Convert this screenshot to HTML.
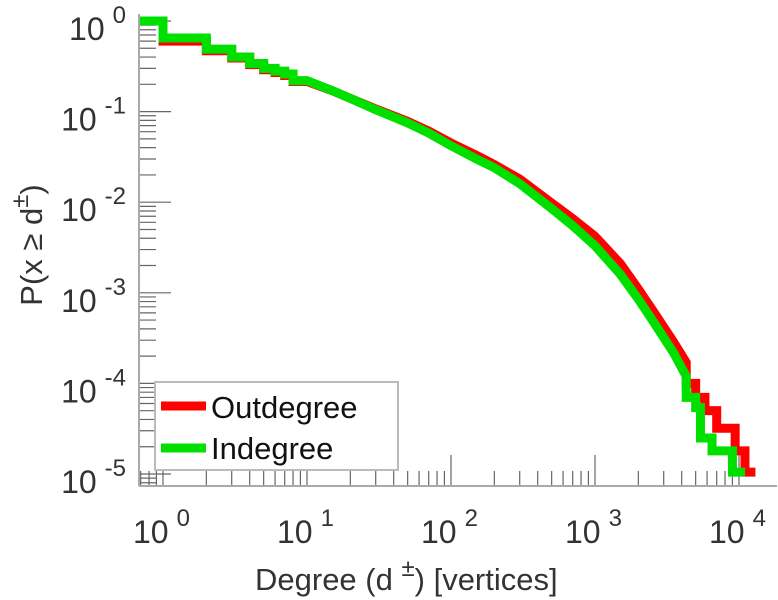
<!DOCTYPE html>
<html><head><meta charset="utf-8"><style>
body{margin:0;background:#fff;}
svg{display:block;font-family:"Liberation Sans",Arial,sans-serif;}
</style></head><body>
<svg id="chart" width="778" height="600" viewBox="0 0 778 600">
<g id="ticks"></g>
<g id="series"></g>
<g id="labels"></g>
<line x1="139" y1="486" x2="777" y2="486" stroke="#aaa" stroke-width="2"/>
<line x1="139" y1="14" x2="139" y2="486" stroke="#aaa" stroke-width="2"/>
<g>
<rect x="155" y="382" width="243" height="88" fill="#fff" stroke="#bbb" stroke-width="2"/>
<line x1="161" y1="406" x2="206" y2="406" stroke="#ff0000" stroke-width="9"/>
<text x="211" y="418" font-size="31" fill="#111">Outdegree</text>
<line x1="161" y1="448" x2="206" y2="448" stroke="#00e000" stroke-width="9"/>
<text x="211" y="459" font-size="31" fill="#111">Indegree</text>
</g>
<text x="255" y="590" font-size="31" fill="#333">Degree (d <tspan dy="-14" font-size="24">±</tspan><tspan dy="14">) [vertices]</tspan></text>
<text transform="translate(42,245) rotate(-90)" text-anchor="middle" font-size="31" fill="#333">P(x ≥ d<tspan dy="-14" font-size="24">±</tspan><tspan dy="14">)</tspan></text>
</svg>
<script>
const xTickExps = [0, 1, 2, 3, 4];
const yTickExps = [0, -1, -2, -3, -4, -5];
const outDeg = [1,2,3,4,5,6,7,8,10,15,20,30,50,70,100,150,200,300,500,700,1000,1500,2000,2500,3000,3500,4300,5000,5800,7000,9400,11000,13000];
const outP = [1,0.6,0.47,0.39,0.33,0.29,0.27,0.25,0.215,0.17,0.14,0.107,0.078,0.061,0.045,0.033,0.026,0.018,0.0098,0.0066,0.0042,0.0021,0.0011,0.00065,0.00042,0.00029,0.00017,0.0001,0.00007,0.00005,0.000032,0.000018,0.0000105];
const inDeg = [1,2,3,4,5,6,7,8,10,15,20,30,50,70,100,150,200,300,500,700,1000,1500,2000,2500,3000,3500,4300,5000,5400,6500,9000,11000];
const inP = [1,0.65,0.49,0.40,0.34,0.30,0.28,0.26,0.22,0.17,0.14,0.105,0.075,0.058,0.042,0.03,0.024,0.016,0.0085,0.0055,0.0033,0.0016,0.00085,0.0005,0.00032,0.00022,0.00012,0.00007,0.000054,0.000025,0.000018,0.0000105];

const NS = "http://www.w3.org/2000/svg";
const X0 = 163, XD = 144, Y0 = 21, YD = 90.6, LEFT = 139, BOTTOM = 486;
function xs(v){ return X0 + Math.log10(v) * XD; }
function ys(v){ return Y0 - Math.log10(v) * YD; }

const ticks = document.getElementById('ticks');
function tick(x1,y1,x2,y2){
  const l = document.createElementNS(NS,'line');
  l.setAttribute('x1',x1);l.setAttribute('y1',y1);l.setAttribute('x2',x2);l.setAttribute('y2',y2);
  l.setAttribute('stroke','#666');l.setAttribute('stroke-width','1.2');
  
  
  ticks.appendChild(l);
}
for (let e = -1; e <= 4; e++) {
  for (let m = 1; m <= 9; m++) {
    const v = m * Math.pow(10, e);
    const x = xs(v);
    if (x < LEFT || x > 777) continue;
    tick(x, BOTTOM, x, BOTTOM - (m === 1 ? 31 : 15));
  }
}
for (let e = -6; e <= 0; e++) {
  for (let m = 1; m <= 9; m++) {
    const v = m * Math.pow(10, e);
    const y = ys(v);
    if (y > BOTTOM || y < 14) continue;
    tick(LEFT, y, LEFT + (m === 1 ? 32 : 17), y);
  }
}

const labels = document.getElementById('labels');
xTickExps.forEach(e => {
  const t = document.createElementNS(NS,'text');
  t.setAttribute('x', xs(Math.pow(10,e)) - 30);
  t.setAttribute('y', 543);
  t.setAttribute('font-size','32');
  t.setAttribute('fill','#333');
  t.innerHTML = '10<tspan dx="8" dy="-17" font-size="24">' + e + '</tspan>';
  
  
  labels.appendChild(t);
});
yTickExps.forEach(e => {
  const t = document.createElementNS(NS,'text');
  t.setAttribute('x', 126);
  t.setAttribute('y', ys(Math.pow(10,e)) + 19);
  t.setAttribute('font-size','32');
  t.setAttribute('fill','#333');
  t.setAttribute('text-anchor','end');
  t.innerHTML = '10<tspan dx="8" dy="-17" font-size="24">' + (e < 0 ? '-' + (-e) : e) + '</tspan>';
  
  
  labels.appendChild(t);
});

const series = document.getElementById('series');
function drawCurve(deg, p, color, name){
  // level p[i] holds up to deg[i], then drops to p[i+1]
  let d = 'M' + (LEFT + 1) + ',' + ys(p[0]);
  for (let i = 0; i < deg.length; i++) {
    const stepped = deg[i] <= 8 || deg[i] >= 4300;
    if (stepped) {
      d += ' L' + xs(deg[i]) + ',' + ys(p[i]);
      if (i + 1 < deg.length) d += ' L' + xs(deg[i]) + ',' + ys(p[i+1]);
    } else {
      d += ' L' + xs(deg[i]) + ',' + ys(p[i]);
    }
  }
  const path = document.createElementNS(NS,'path');
  path.setAttribute('d', d);
  path.setAttribute('fill','none');
  path.setAttribute('stroke', color);
  path.setAttribute('stroke-width','9');
  path.setAttribute('stroke-linejoin','miter');
  
  
  series.appendChild(path);
}
drawCurve(outDeg, outP, '#ff0000', 'outdegree-line');
drawCurve(inDeg, inP, '#00e000', 'indegree-line');
</script>
</body></html>
